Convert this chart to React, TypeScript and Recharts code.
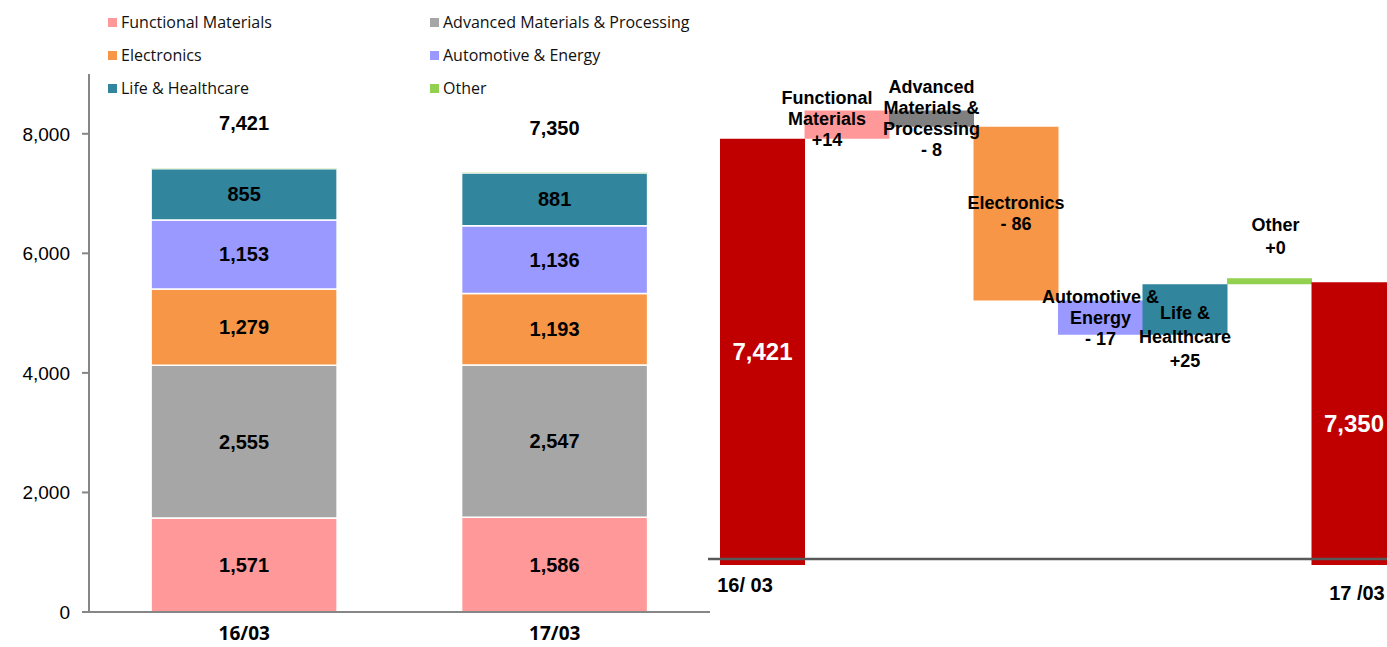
import { BarChart, Bar, XAxis, YAxis, Cell, LabelList, ReferenceLine } from 'recharts';

// Net sales by segment, two fiscal periods
const periods = ['16/03', '17/03'];
const functionalMaterials = [1571, 1586];
const advancedMaterials = [2555, 2547];
const electronics = [1279, 1193];
const automotiveEnergy = [1153, 1136];
const lifeHealthcare = [855, 881];
const other = [8, 7];
const totals = [7421, 7350];
const yTicks = [0, 2000, 4000, 6000, 8000];

// Bridge from 16/03 to 17/03
const bridgeStart = 7421;
const bridgeEnd = 7350;
const bridgeDeltas = [14, -8, -86, -17, 25, 0];
const bridgeEndLabels = ['16/ 03', '17 /03'];
const bridgeLabelLines = [
  ['Functional', 'Materials'],
  ['Advanced', 'Materials &', 'Processing'],
  ['Electronics'],
  ['Automotive &', 'Energy'],
  ['Life &', 'Healthcare'],
  ['Other'],
];

const segmentNames = [
  'Functional Materials',
  'Advanced Materials & Processing',
  'Electronics',
  'Automotive & Energy',
  'Life & Healthcare',
  'Other',
];
const segmentColors = ['#FF9999', '#A6A6A6', '#F79646', '#9999FF', '#31859C', '#92D050'];
const bridgeColors = ['#FF9999', '#7F7F7F', '#F79646', '#9999FF', '#31859C', '#92D050'];
const totalColor = '#C00000';
const axisGray = '#868686';

const LABEL_FONT = '"Liberation Sans", Arial, sans-serif';
const LEGEND_FONT = '"Open Sans", sans-serif';

const fmt = (v: number) => v.toLocaleString('en-US');
const fmtDelta = (d: number) => (d >= 0 ? `+${d}` : `- ${-d}`);

const stackKeys = ['fm', 'amp', 'elec', 'auto', 'life', 'other'];
const stackSeries = [functionalMaterials, advancedMaterials, electronics, automotiveEnergy, lifeHealthcare, other];

const compositionData = periods.map((p, i) => {
  const row: Record<string, number | string> = { period: p, total: totals[i] };
  stackKeys.forEach((k, s) => {
    row[k] = stackSeries[s][i];
  });
  return row;
});

// waterfall rows: floating bars as [low, high] ranges
const BRIDGE_FLOOR = 7210;
const BRIDGE_CEIL = 7460;
type BridgeRow = { name: string; range: [number, number]; total?: number; seg?: number };
const bridgeRows: BridgeRow[] = (() => {
  const rows: BridgeRow[] = [{ name: 'start', range: [BRIDGE_FLOOR, bridgeStart], total: bridgeStart }];
  let level = bridgeStart;
  bridgeDeltas.forEach((d, i) => {
    const next = level + d;
    rows.push({ name: segmentNames[i], range: [Math.min(level, next), Math.max(level, next)], seg: i });
    level = next;
  });
  rows.push({ name: 'end', range: [BRIDGE_FLOOR, bridgeEnd], total: bridgeEnd });
  return rows;
})();

// where each change label sits relative to its bar
const bridgeLabelPlace = [
  { at: 'middle', dx: -20, dy: -6, lh: 21 },
  { at: 'middle', dx: 0, dy: 0, lh: 21 },
  { at: 'middle', dx: 0, dy: 0, lh: 21 },
  { at: 'middle', dx: 0, dy: 0, lh: 21 },
  { at: 'bottom', dx: 0, dy: 2, lh: 24 },
  { at: 'top', dx: 6, dy: -42, lh: 23 },
];

function SegmentLabel(props: any) {
  const { x, y, width, height, value } = props;
  if (!value || Number(height) < 12) return null;
  return (
    <text
      x={Number(x) + Number(width) / 2}
      y={Number(y) + Number(height) / 2}
      textAnchor="middle"
      dominantBaseline="central"
      fontFamily={LABEL_FONT}
      fontWeight="bold"
      fontSize={20}
      fill="#000"
    >
      {fmt(Number(value))}
    </text>
  );
}

function TotalLabel(props: any) {
  const { x, y, width, index } = props;
  return (
    <text
      x={Number(x) + Number(width) / 2}
      y={Number(y) - 45}
      textAnchor="middle"
      dominantBaseline="central"
      fontFamily={LABEL_FONT}
      fontWeight="bold"
      fontSize={20}
      fill="#000"
    >
      {fmt(totals[index])}
    </text>
  );
}

function PeriodTick(props: any) {
  const { x, y, payload } = props;
  return (
    <text
      x={x}
      y={y + 20}
      textAnchor="middle"
      fontFamily={LEGEND_FONT}
      fontWeight="bold"
      fontSize={19}
      fill="#000"
    >
      {payload.value}
    </text>
  );
}

function CompositionChart() {
  return (
    <BarChart
      width={720}
      height={647}
      data={compositionData}
      margin={{ top: 74, right: 10, bottom: 0, left: 0 }}
      barCategoryGap="20%"
    >
      <XAxis
        dataKey="period"
        height={35}
        axisLine={{ stroke: axisGray, strokeWidth: 2 }}
        tickLine={false}
        tick={<PeriodTick />}
      />
      <YAxis
        width={89}
        domain={[0, 9000]}
        ticks={yTicks}
        tickFormatter={fmt}
        axisLine={{ stroke: axisGray, strokeWidth: 2 }}
        tickLine={{ stroke: axisGray, strokeWidth: 2 }}
        tickSize={7}
        tickMargin={12}
        tick={{ fontSize: 19, fill: '#000', fontFamily: LABEL_FONT }}
      />
      {stackKeys.map((k, s) => (
        <Bar
          key={k}
          dataKey={k}
          stackId="a"
          fill={segmentColors[s]}
          stroke="#fff"
          strokeWidth={k === 'other' ? 0 : 1.5}
          isAnimationActive={false}
        >
          {k !== 'other' && <LabelList dataKey={k} content={<SegmentLabel />} />}
          {k === 'other' && <LabelList dataKey="total" content={<TotalLabel />} />}
        </Bar>
      ))}
    </BarChart>
  );
}

function BridgeLabel(props: any) {
  const { x, y, width, height, index } = props;
  const row = bridgeRows[index];
  const cx = Number(x) + Number(width) / 2;
  const top = Number(y);
  const h = Number(height);
  if (row.total !== undefined) {
    return (
      <text
        x={cx}
        y={top + h / 2}
        textAnchor="middle"
        dominantBaseline="central"
        fontFamily={LABEL_FONT}
        fontWeight="bold"
        fontSize={24}
        fill="#fff"
      >
        {fmt(row.total)}
      </text>
    );
  }
  const seg = row.seg as number;
  const place = bridgeLabelPlace[seg];
  const lines = [...bridgeLabelLines[seg], fmtDelta(bridgeDeltas[seg])];
  const anchorY = place.at === 'top' ? top : place.at === 'bottom' ? top + h : top + h / 2;
  const centerY = anchorY + place.dy;
  const firstY = centerY - ((lines.length - 1) * place.lh) / 2;
  return (
    <text
      textAnchor="middle"
      dominantBaseline="central"
      fontFamily={LABEL_FONT}
      fontWeight="bold"
      fontSize={18}
      fill="#000"
    >
      {lines.map((ln, i) => (
        <tspan key={i} x={cx + place.dx} y={firstY + i * place.lh}>
          {ln}
        </tspan>
      ))}
    </text>
  );
}

function BridgeTick(props: any) {
  const { x, y, index } = props;
  if (index === 0) {
    return (
      <text x={x - 45} y={y + 19} textAnchor="start" fontFamily={LABEL_FONT} fontWeight="bold" fontSize={20} fill="#000">
        {bridgeEndLabels[0]}
      </text>
    );
  }
  if (index === bridgeRows.length - 1) {
    return (
      <text x={x + 31} y={y + 27} textAnchor="end" fontFamily={LABEL_FONT} fontWeight="bold" fontSize={20} fill="#000">
        {bridgeEndLabels[1]}
      </text>
    );
  }
  return null;
}

function BridgeChart() {
  return (
    <BarChart
      width={696}
      height={647}
      data={bridgeRows}
      margin={{ top: 60, right: 0, bottom: 0, left: 8 }}
      barCategoryGap={0}
    >
      <XAxis
        dataKey="name"
        height={82}
        padding={{ left: 12, right: 0 }}
        axisLine={false}
        tickLine={false}
        interval={0}
        tick={<BridgeTick />}
      />
      <YAxis hide domain={[BRIDGE_FLOOR, BRIDGE_CEIL]} allowDataOverflow />
      <Bar dataKey="range" minPointSize={6} isAnimationActive={false}>
        {bridgeRows.map((r, i) => (
          <Cell key={i} fill={r.total !== undefined ? totalColor : bridgeColors[r.seg as number]} />
        ))}
        <LabelList dataKey="range" content={<BridgeLabel />} />
      </Bar>
      <ReferenceLine y={7213} stroke="#595959" strokeWidth={2.5} />
    </BarChart>
  );
}

function SegmentLegend() {
  const colX = [108, 430];
  const rowY = [22, 55, 88];
  return (
    <div style={{ position: 'absolute', left: 0, top: 0, width: 720, height: 100, pointerEvents: 'none' }}>
      {segmentNames.map((name, i) => {
        const col = i % 2;
        const row = Math.floor(i / 2);
        return (
          <div
            key={name}
            style={{
              position: 'absolute',
              left: colX[col],
              top: rowY[row] - 11,
              height: 22,
              display: 'flex',
              alignItems: 'center',
              whiteSpace: 'nowrap',
              fontFamily: LEGEND_FONT,
              fontSize: 16,
              color: '#111',
            }}
          >
            <span style={{ display: 'inline-block', width: 9, height: 9, background: segmentColors[i], marginRight: 4 }} />
            {name}
          </div>
        );
      })}
    </div>
  );
}

export default function App() {
  return (
    <div style={{ position: 'absolute', left: 0, top: 0, width: 1387, height: 647, overflow: 'hidden', background: '#fff' }}>
      <div style={{ position: 'absolute', left: 0, top: 0 }}>
        <CompositionChart />
      </div>
      <div style={{ position: 'absolute', left: 700, top: 0 }}>
        <BridgeChart />
      </div>
      <SegmentLegend />
    </div>
  );
}
